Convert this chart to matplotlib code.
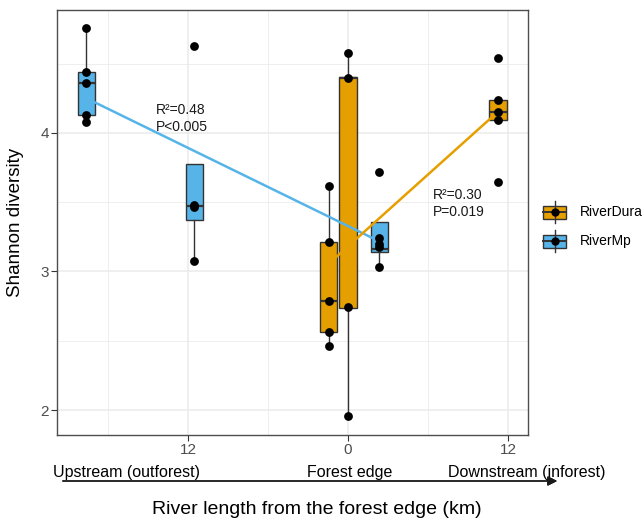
import numpy as np
from matplotlib import pyplot as plt
from matplotlib.patches import Rectangle

# box positions along the river (km from forest edge) and group of each box
positions = [-19.65, -11.55, -1.43, 0.0, 2.36, 11.25]
groups = ["RiverMp", "RiverMp", "RiverDura", "RiverDura", "RiverMp", "RiverDura"]

# box statistics
whislo = [4.082, 3.076, 2.460, 1.957, 3.035, 4.094]
q1 = [4.130, 3.372, 2.561, 2.736, 3.143, 4.094]
med = [4.359, 3.475, 2.790, 4.400, 3.160, 4.154]
q3 = [4.443, 3.774, 3.215, 4.407, 3.355, 4.238]
whishi = [4.756, 3.774, 3.620, 4.580, 3.355, 4.238]

# sample points for each box
points = [
    [4.756, 4.440, 4.360, 4.130, 4.082],
    [4.630, 3.480, 3.468, 3.076],
    [3.620, 3.215, 2.790, 2.561, 2.460],
    [4.580, 4.400, 2.747, 1.957],
    [3.720, 3.240, 3.200, 3.180, 3.035],
    [4.539, 4.238, 4.154, 4.094, 3.648],
]

# fitted trend lines (end points)
fit_x = {"RiverMp": [-19.65, 2.36], "RiverDura": [-1.43, 11.25]}
fit_y = {"RiverMp": [4.252, 3.217], "RiverDura": [3.058, 4.154]}
stats_txt = {"RiverMp": ["R\u00b2=0.48", "P<0.005"], "RiverDura": ["R\u00b2=0.30", "P=0.019"]}
stats_pos = {"RiverMp": (-14.4, 4.166, 4.043), "RiverDura": (6.375, 3.552, 3.430)}

xticks = [-12, 0, 12]
xticklabels = ["12", "0", "12"]
yticks = [2, 3, 4]
zone_labels = ["Upstream (outforest)", "Forest edge", "Downstream (inforest)"]

clrs = {"RiverDura": "#E69F00", "RiverMp": "#56B4E9"}
W, H = 644, 523


def fx(px):
    return px / W


def fy(py):
    return 1 - py / H


def main():
    plt.rcParams['font.family'] = ['Liberation Sans', 'DejaVu Sans']
    fig = plt.figure(figsize=(6.44, 5.23), dpi=100)
    ax = fig.add_axes([fx(57), fy(435), fx(528) - fx(57), fy(10) - fy(435)])

    for i, pos in enumerate(positions):
        st = [dict(whislo=whislo[i], q1=q1[i], med=med[i], q3=q3[i], whishi=whishi[i])]
        ax.bxp(st, positions=[pos], widths=1.28, patch_artist=True, showfliers=False,
               showcaps=False, manage_ticks=False,
               boxprops=dict(facecolor=clrs[groups[i]], edgecolor="#333333", linewidth=1.0),
               medianprops=dict(color="#333333", linewidth=1.6),
               whiskerprops=dict(color="#333333", linewidth=1.0),
               zorder=2)
        ax.scatter(np.full(len(points[i]), pos), points[i], s=40, color="black",
                   zorder=4, linewidths=0)

    for g in ["RiverMp", "RiverDura"]:
        ax.plot(fit_x[g], fit_y[g], color=clrs[g], lw=1.8, zorder=3, solid_capstyle="butt")
        x, y1, y2 = stats_pos[g]
        ax.text(x, y1, stats_txt[g][0], fontsize=10, va="center", ha="left", color="#1a1a1a")
        ax.text(x, y2, stats_txt[g][1], fontsize=10, va="center", ha="left", color="#1a1a1a")

    ax.set_xlim(-21.83, 13.5)
    ax.set_ylim(1.8195, 4.888)
    ax.set_xticks(xticks)
    ax.set_xticklabels(xticklabels)
    ax.set_xticks([-18, -6, 6], minor=True)
    ax.set_yticks(yticks)
    ax.set_yticks([2.5, 3.5, 4.5], minor=True)
    ax.grid(which="major", color="#EBEBEB", lw=1.1)
    ax.grid(which="minor", color="#EBEBEB", lw=0.6)
    ax.set_axisbelow(True)
    ax.tick_params(which="major", length=4, color="#333333", labelcolor="#4D4D4D",
                   labelsize=11, pad=2)
    ax.tick_params(which="minor", length=0)
    for s in ax.spines.values():
        s.set_color("#4D4D4D")
        s.set_linewidth(1.0)

    # zone labels and arrow under the axis
    for lab, px in zip(zone_labels, [126.5, 350, 527]):
        fig.text(fx(px), fy(472), lab, fontsize=11.5, ha="center", va="center")
    fig.add_artist(plt.annotate("", xy=(fx(560), fy(481)), xytext=(fx(60), fy(481)),
                                xycoords="figure fraction", textcoords="figure fraction",
                                arrowprops=dict(arrowstyle="-|>", color="#1a1a1a", lw=1.0,
                                                mutation_scale=14)))
    fig.text(fx(317), fy(510), "River length from the forest edge (km)", fontsize=14,
             ha="center", va="center")
    fig.text(fx(16), fy(222.5), "Shannon diversity", fontsize=13.5, rotation=90,
             ha="center", va="center")

    # legend
    lax = fig.add_axes([0, 0, 1, 1])
    lax.set_xlim(0, W)
    lax.set_ylim(H, 0)
    lax.axis("off")
    for g, cy in zip(["RiverDura", "RiverMp"], [212, 241]):
        lax.plot([555, 555], [cy - 11, cy + 11], color="#333333", lw=1.0)
        lax.add_patch(Rectangle((543.5, cy - 6.5), 23, 13, facecolor=clrs[g],
                                edgecolor="#333333", lw=1.0))
        lax.plot([543.5, 566.5], [cy, cy], color="#333333", lw=1.4)
        lax.scatter([555], [cy], s=36, color="black", linewidths=0, zorder=3)
        lax.text(580, cy, g, fontsize=10, ha="left", va="center")

    fig.savefig("out.png", dpi=100)


if __name__ == "__main__":
    main()
